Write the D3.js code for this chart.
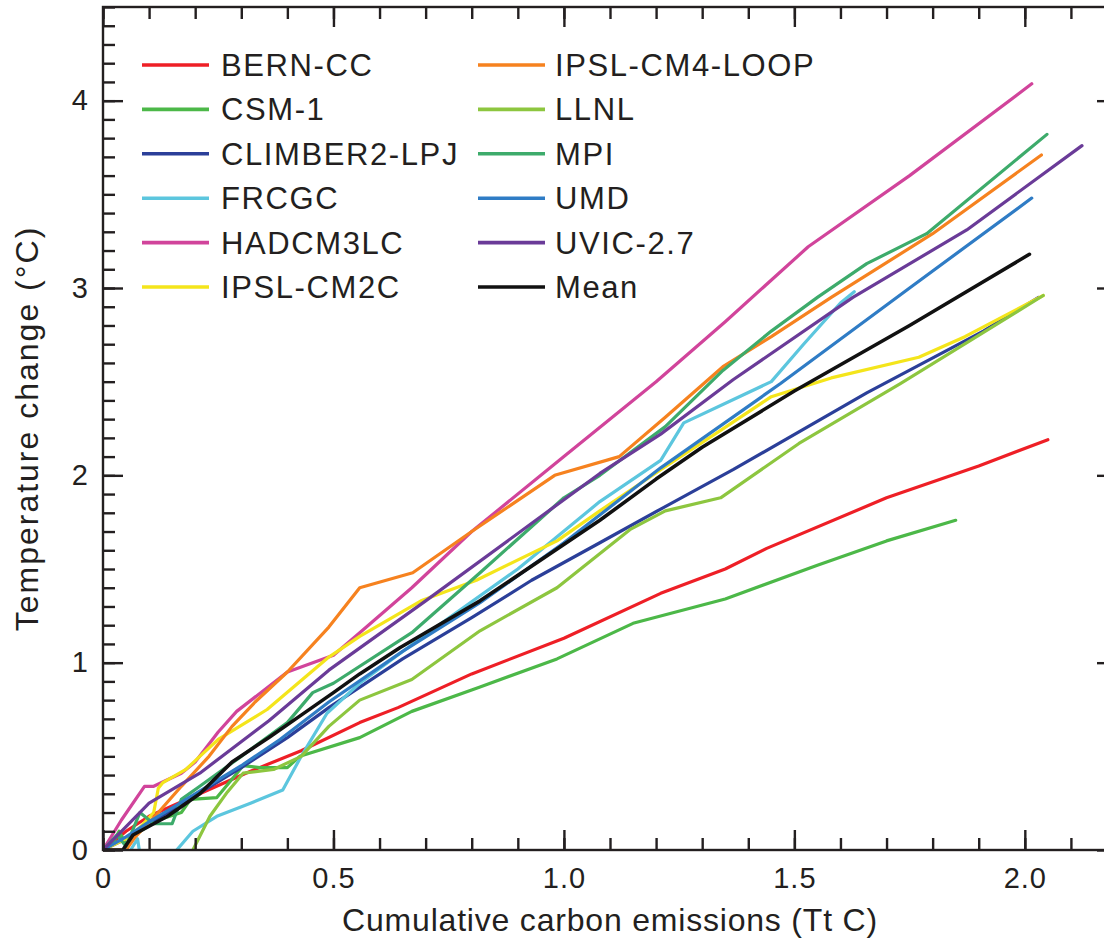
<!DOCTYPE html>
<html><head><meta charset="utf-8">
<script src="https://cdn.jsdelivr.net/npm/d3@7"></script>
<style>
html,body{margin:0;padding:0;background:#fff;}
text{font-family:"Liberation Sans",Arial,Helvetica,sans-serif;fill:#231f20;}
</style></head>
<body>
<svg id="chart" width="1104" height="945"></svg>
<script>
// ---- data (x: cumulative emissions, TtC; y: temperature change, °C) ----
const seriesNames = ["BERN-CC","CSM-1","CLIMBER2-LPJ","FRCGC","HADCM3LC","IPSL-CM2C",
                     "IPSL-CM4-LOOP","LLNL","MPI","UMD","UVIC-2.7","Mean"];
const seriesColors = ["#ee1f26","#4cb848","#2b3f99","#5cc6de","#d1449b","#f4e51b",
                      "#f6821f","#8dc63f","#3dab6b","#2f7cc5","#6a3b98","#111111"];
const bernCC = [[0,0],[0.05,0.1],[0.1,0.18],[0.2,0.29],[0.31,0.41],[0.43,0.53],[0.557,0.68],[0.64,0.76],[0.8,0.94],[1.0,1.13],[1.21,1.37],[1.35,1.5],[1.44,1.61],[1.7,1.88],[1.9,2.05],[2.05,2.19]];
const csm1 = [[0,0],[0.02,0.03],[0.035,0.1],[0.05,0.03],[0.08,0.1],[0.12,0.16],[0.17,0.2],[0.19,0.27],[0.247,0.28],[0.304,0.45],[0.34,0.44],[0.4,0.44],[0.427,0.5],[0.557,0.6],[0.67,0.74],[0.818,0.87],[0.985,1.02],[1.15,1.21],[1.35,1.34],[1.55,1.52],[1.7,1.65],[1.85,1.76]];
const climber = [[0,0],[0.05,0.06],[0.1,0.14],[0.2,0.29],[0.3,0.44],[0.4,0.6],[0.49,0.76],[0.65,1.02],[0.8,1.24],[0.93,1.44],[1.078,1.64],[1.21,1.82],[1.367,2.03],[1.657,2.44],[1.91,2.77],[2.03,2.95]];
const frcgc = [[0.06,0],[0.075,0.06],[0.085,-0.1],[0.15,-0.1],[0.16,0],[0.195,0.1],[0.247,0.18],[0.32,0.25],[0.39,0.32],[0.43,0.5],[0.486,0.73],[0.557,0.89],[0.7,1.15],[0.9,1.5],[1.078,1.86],[1.21,2.08],[1.26,2.28],[1.45,2.5],[1.52,2.7],[1.6,2.92],[1.63,2.98]];
const hadcm3lc = [[0,0],[0.04,0.16],[0.09,0.34],[0.11,0.34],[0.17,0.41],[0.2,0.47],[0.25,0.63],[0.29,0.74],[0.4,0.95],[0.5,1.04],[0.557,1.16],[0.67,1.4],[0.8,1.7],[1.0,2.1],[1.2,2.5],[1.35,2.82],[1.53,3.22],[1.75,3.6],[2.015,4.09]];
const ipslCM2C = [[0,0],[0.05,0.06],[0.08,0.12],[0.11,0.2],[0.12,0.33],[0.13,0.36],[0.18,0.43],[0.21,0.5],[0.25,0.59],[0.356,0.75],[0.49,1.03],[0.557,1.14],[0.69,1.33],[0.81,1.44],[0.985,1.65],[1.078,1.81],[1.21,2.03],[1.34,2.24],[1.45,2.42],[1.58,2.52],[1.77,2.63],[1.87,2.74],[2.04,2.96]];
const ipslCM4 = [[0,0],[0.05,0],[0.07,0.07],[0.12,0.2],[0.17,0.34],[0.23,0.5],[0.28,0.66],[0.33,0.79],[0.4,0.95],[0.49,1.19],[0.557,1.4],[0.672,1.48],[0.8,1.7],[0.98,2.0],[1.12,2.1],[1.22,2.31],[1.345,2.58],[1.45,2.74],[1.58,2.95],[1.8,3.29],[2.036,3.71]];
const llnl = [[0.195,0],[0.232,0.18],[0.27,0.31],[0.304,0.41],[0.37,0.43],[0.43,0.5],[0.49,0.66],[0.557,0.8],[0.67,0.91],[0.818,1.17],[0.985,1.4],[1.143,1.71],[1.22,1.81],[1.34,1.88],[1.51,2.17],[1.73,2.49],[2.04,2.96]];
const mpi = [[0,0],[0.03,0.08],[0.05,0.02],[0.08,0.2],[0.11,0.14],[0.15,0.14],[0.17,0.27],[0.21,0.34],[0.3,0.5],[0.4,0.68],[0.455,0.84],[0.5,0.89],[0.67,1.16],[0.818,1.48],[1.0,1.88],[1.078,2.0],[1.22,2.26],[1.345,2.56],[1.45,2.77],[1.55,2.95],[1.657,3.13],[1.787,3.29],[2.048,3.82]];
const umd = [[0,0],[0.05,0.07],[0.1,0.15],[0.2,0.3],[0.3,0.45],[0.384,0.59],[0.49,0.79],[0.65,1.06],[0.818,1.32],[1.0,1.64],[1.21,2.04],[1.47,2.49],[1.75,3.0],[2.015,3.48]];
const uvic = [[0,0],[0.04,0.1],[0.1,0.25],[0.21,0.41],[0.36,0.69],[0.49,0.96],[0.7,1.33],[1.078,2.01],[1.21,2.22],[1.367,2.51],[1.627,2.95],[1.874,3.31],[2.124,3.76]];
const mean = [[0,0],[0.043,0],[0.065,0.08],[0.14,0.18],[0.21,0.3],[0.28,0.47],[0.36,0.6],[0.43,0.72],[0.5,0.84],[0.557,0.94],[0.644,1.08],[0.818,1.33],[1.078,1.76],[1.2,1.98],[1.3,2.15],[1.5,2.45],[1.75,2.8],[2.01,3.18]];
const seriesValues = [bernCC,csm1,climber,frcgc,hadcm3lc,ipslCM2C,ipslCM4,llnl,mpi,umd,uvic,mean];

const xMajorTicks = [0,0.5,1.0,1.5,2.0];
const xTickLabels = ["0","0.5","1.0","1.5","2.0"];
const yMajorTicks = [0,1,2,3,4];
const yTickLabels = ["0","1","2","3","4"];
const xTitle = "Cumulative carbon emissions (Tt C)";
const yTitle = "Temperature change (\u00B0C)";

// ---- layout ----
const svg = d3.select("#chart");
const L = 103, R = 1117, T = 7, B = 850;
const x = d3.scaleLinear().domain([0,2.2]).range([L,R]);
const y = d3.scaleLinear().domain([0,4.5]).range([B,T]);
const xMinor = d3.range(0,2.2001,0.1).map(v=>+v.toFixed(2));
const yMinor = d3.range(0,4.5001,0.1).map(v=>+v.toFixed(2));

svg.append("defs").append("clipPath").attr("id","plotclip")
  .append("rect").attr("x",L).attr("y",T).attr("width",R-L).attr("height",B-T);

// lines
const line = d3.line().x(d=>x(d[0])).y(d=>y(d[1]));
const g = svg.append("g").attr("clip-path","url(#plotclip)");
seriesValues.forEach((s,i)=>{
  g.append("path").datum(s).attr("d",line)
   .attr("fill","none").attr("stroke",seriesColors[i])
   .attr("stroke-width", i===11 ? 3.6 : 3.2)
   .attr("stroke-linejoin","round").attr("stroke-linecap","round");
});

// axes
function styleAxis(sel){
  sel.select(".domain").remove();
  sel.selectAll(".tick line").attr("stroke","#231f20").attr("stroke-width",2.4);
  sel.selectAll("text").style("font-family",'"Liberation Sans",Arial,sans-serif')
     .style("font-size","29px").style("letter-spacing","1px").attr("fill","#231f20");
}
const fmtX = (d)=>xTickLabels[xMajorTicks.indexOf(d)];
const fmtY = (d)=>yTickLabels[yMajorTicks.indexOf(d)];
// minor ticks
svg.append("g").attr("transform",`translate(0,${B})`)
  .call(d3.axisBottom(x).tickValues(xMinor).tickSize(-12).tickFormat("")).call(styleAxis);
svg.append("g").attr("transform",`translate(0,${T})`)
  .call(d3.axisTop(x).tickValues(xMinor).tickSize(-12).tickFormat("")).call(styleAxis);
svg.append("g").attr("transform",`translate(${L},0)`)
  .call(d3.axisLeft(y).tickValues(yMinor).tickSize(-12).tickFormat("")).call(styleAxis);
svg.append("g").attr("transform",`translate(${R},0)`)
  .call(d3.axisRight(y).tickValues(yMinor).tickSize(-12).tickFormat("")).call(styleAxis);
// major ticks
svg.append("g").attr("transform",`translate(0,${B})`)
  .call(d3.axisBottom(x).tickValues(xMajorTicks).tickSize(-20).tickPadding(17).tickFormat(fmtX)).call(styleAxis);
svg.append("g").attr("transform",`translate(0,${T})`)
  .call(d3.axisTop(x).tickValues(xMajorTicks).tickSize(-20).tickFormat("")).call(styleAxis);
svg.append("g").attr("transform",`translate(${L},0)`)
  .call(d3.axisLeft(y).tickValues(yMajorTicks).tickSize(-20).tickPadding(14).tickFormat(fmtY)).call(styleAxis);
svg.append("g").attr("transform",`translate(${R},0)`)
  .call(d3.axisRight(y).tickValues(yMajorTicks).tickSize(-20).tickFormat("")).call(styleAxis);

// frame
svg.append("rect").attr("x",L).attr("y",T).attr("width",R-L).attr("height",B-T)
  .attr("fill","none").attr("stroke","#231f20").attr("stroke-width",2.4);

// titles
svg.append("text").attr("x",(L+R)/2).attr("y",931).attr("text-anchor","middle")
  .style("font-size","32px").style("letter-spacing","0.8px").text(xTitle);
svg.append("text").attr("transform",`translate(38,${(T+B)/2}) rotate(-90)`)
  .attr("text-anchor","middle").style("font-size","32px").style("letter-spacing","2px").text(yTitle);

// legend
const legX = [142, 478], legTextX = [221, 555], legY0 = 65, legDy = 44.4, legLen = 67;
seriesNames.forEach((n,i)=>{
  const col = Math.floor(i/6), row = i%6;
  const lx = legX[col], ly = legY0 + row*legDy;
  svg.append("line").attr("x1",lx).attr("x2",lx+legLen).attr("y1",ly).attr("y2",ly)
    .attr("stroke",seriesColors[i]).attr("stroke-width",3.6);
  svg.append("text").attr("x",legTextX[col]).attr("y",ly+11)
    .style("font-size","31px").style("letter-spacing","1.6px").text(n);
});
</script>
</body></html>
